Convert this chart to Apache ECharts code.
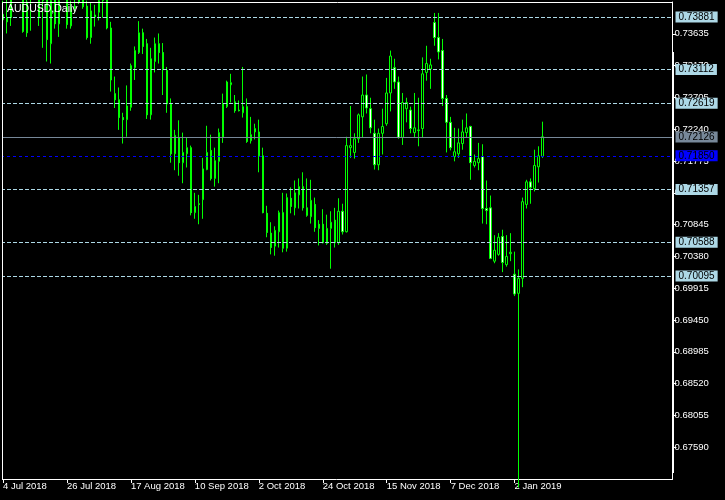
<!DOCTYPE html>
<html><head><meta charset="utf-8">
<script src="https://cdn.jsdelivr.net/npm/echarts@6/dist/echarts.min.js"></script>
<style>html,body{margin:0;padding:0;background:#000;}#c{width:725px;height:500px;}</style>
</head><body><div id="c"></div>
<script>
const symbolTitle = 'AUDUSD,Daily';
const tickLabels = ['4 Jul 2018','26 Jul 2018','17 Aug 2018','10 Sep 2018','2 Oct 2018','24 Oct 2018','15 Nov 2018','7 Dec 2018','2 Jan 2019'];
const barsPerLabel = 16;
const totalSlots = 168;
const opens = [0.7384,0.7387,0.7418,0.7420,0.7445,0.7468,0.7410,0.7418,0.7425,0.7430,0.7412,0.7418,0.7349,0.7415,0.7378,0.7415,0.7440,0.7375,0.7400,0.7410,0.7420,0.7404,0.7358,0.7391,0.7395,0.7412,0.7430,0.7372,0.7276,0.7267,0.7241,0.7238,0.7256,0.7314,0.7336,0.7365,0.7349,0.7245,0.7323,0.7349,0.7336,0.7310,0.7261,0.7188,0.7212,0.7175,0.7188,0.7197,0.7102,0.7115,0.7121,0.7165,0.7193,0.7152,0.7177,0.7212,0.7257,0.7289,0.7264,0.7252,0.7248,0.7257,0.7207,0.7220,0.7220,0.7185,0.7101,0.7072,0.7053,0.7074,0.7102,0.7050,0.7123,0.7109,0.7128,0.7140,0.7109,0.7096,0.7114,0.7085,0.7085,0.7057,0.7079,0.7091,0.7058,0.7104,0.7074,0.7197,0.7190,0.7210,0.7242,0.7274,0.7254,0.7218,0.7172,0.7218,0.7232,0.7277,0.7314,0.7293,0.7212,0.7254,0.7252,0.7219,0.7222,0.7225,0.7307,0.7312,0.7380,0.7358,0.7339,0.7269,0.7234,0.7184,0.7188,0.7203,0.7219,0.7228,0.7171,0.7175,0.7184,0.7108,0.7109,0.7031,0.7041,0.7067,0.7026,0.7042,0.7012,0.6984,0.7006,0.7114,0.7147,0.7137,0.7169,0.7184];
const closes = [0.7392,0.7381,0.7387,0.7445,0.7470,0.7367,0.7365,0.7425,0.7432,0.7387,0.7418,0.7355,0.7412,0.7378,0.7412,0.7440,0.7377,0.7402,0.7404,0.7420,0.7403,0.7358,0.7397,0.7388,0.7412,0.7425,0.7372,0.7296,0.7267,0.7241,0.7238,0.7258,0.7317,0.7339,0.7365,0.7345,0.7245,0.7327,0.7349,0.7336,0.7311,0.7261,0.7188,0.7215,0.7175,0.7190,0.7197,0.7102,0.7111,0.7114,0.7166,0.7190,0.7152,0.7178,0.7219,0.7261,0.7293,0.7292,0.7251,0.7251,0.7257,0.7206,0.7216,0.7225,0.7185,0.7102,0.7073,0.7051,0.7076,0.7102,0.7050,0.7124,0.7111,0.7131,0.7140,0.7109,0.7098,0.7120,0.7080,0.7079,0.7058,0.7079,0.7088,0.7058,0.7104,0.7074,0.7200,0.7200,0.7210,0.7245,0.7274,0.7255,0.7226,0.7172,0.7218,0.7228,0.7277,0.7331,0.7293,0.7212,0.7263,0.7263,0.7225,0.7226,0.7223,0.7305,0.7320,0.7318,0.7358,0.7337,0.7269,0.7234,0.7197,0.7191,0.7204,0.7220,0.7226,0.7175,0.7177,0.7181,0.7108,0.7105,0.7035,0.7047,0.7066,0.7029,0.7038,0.7044,0.6983,0.7006,0.7118,0.7147,0.7139,0.7171,0.7185,0.7213];
const lows = [0.7381,0.7364,0.7375,0.7412,0.7430,0.7365,0.7359,0.7368,0.7412,0.7375,0.7343,0.7323,0.7320,0.7371,0.7359,0.7411,0.7371,0.7371,0.7395,0.7407,0.7400,0.7355,0.7349,0.7374,0.7383,0.7387,0.7370,0.7279,0.7255,0.7223,0.7203,0.7213,0.7251,0.7296,0.7334,0.7334,0.7239,0.7238,0.7307,0.7320,0.7274,0.7248,0.7175,0.7164,0.7156,0.7145,0.7168,0.7098,0.7093,0.7085,0.7093,0.7164,0.7149,0.7140,0.7145,0.7204,0.7255,0.7263,0.7248,0.7250,0.7241,0.7204,0.7203,0.7209,0.7161,0.7101,0.7066,0.7041,0.7039,0.7051,0.7044,0.7045,0.7101,0.7098,0.7108,0.7105,0.7096,0.7086,0.7074,0.7054,0.7057,0.7055,0.7020,0.7051,0.7055,0.7070,0.7073,0.7182,0.7181,0.7204,0.7212,0.7247,0.7218,0.7165,0.7164,0.7187,0.7229,0.7250,0.7283,0.7210,0.7201,0.7234,0.7218,0.7212,0.7199,0.7212,0.7295,0.7283,0.7346,0.7326,0.7258,0.7190,0.7193,0.7177,0.7182,0.7194,0.7212,0.7150,0.7168,0.7164,0.7086,0.7085,0.7034,0.7028,0.7039,0.7015,0.7023,0.7031,0.6980,0.6700,0.6993,0.7108,0.7115,0.7133,0.7146,0.7182];
const highs = [0.7412,0.7415,0.7430,0.7462,0.7483,0.7475,0.7425,0.7440,0.7445,0.7438,0.7430,0.7425,0.7425,0.7428,0.7420,0.7452,0.7448,0.7412,0.7415,0.7432,0.7428,0.7412,0.7410,0.7406,0.7425,0.7440,0.7440,0.7381,0.7301,0.7285,0.7248,0.7288,0.7320,0.7345,0.7382,0.7371,0.7356,0.7343,0.7358,0.7364,0.7350,0.7315,0.7269,0.7223,0.7237,0.7219,0.7212,0.7200,0.7131,0.7128,0.7182,0.7229,0.7216,0.7197,0.7225,0.7276,0.7295,0.7305,0.7274,0.7266,0.7315,0.7269,0.7242,0.7232,0.7238,0.7197,0.7112,0.7088,0.7082,0.7105,0.7131,0.7130,0.7139,0.7149,0.7152,0.7161,0.7152,0.7150,0.7124,0.7091,0.7107,0.7099,0.7104,0.7109,0.7123,0.7115,0.7213,0.7258,0.7218,0.7247,0.7301,0.7304,0.7270,0.7238,0.7225,0.7254,0.7299,0.7339,0.7327,0.7301,0.7277,0.7270,0.7257,0.7277,0.7270,0.7329,0.7346,0.7327,0.7394,0.7394,0.7356,0.7274,0.7242,0.7226,0.7225,0.7238,0.7247,0.7229,0.7187,0.7204,0.7202,0.7149,0.7127,0.7069,0.7072,0.7077,0.7069,0.7072,0.7045,0.7019,0.7124,0.7150,0.7152,0.7194,0.7199,0.7235];
const levelLines = [0.73881, 0.73112, 0.72619, 0.71357, 0.70588, 0.70095];
const blueLine = 0.71850;
const bidPrice = 0.72126;
const priceMin = 0.67125, priceMax = 0.74100, priceStep = 0.00465;

const FONT = 'Liberation Sans';
const slots = [];
for (let i = 0; i < totalSlots; i++) slots.push(String(i));
const isLabelSlot = (idx) => idx % barsPerLabel === 0 && idx / barsPerLabel < tickLabels.length;
const candles = opens.map((o, i) => [o, closes[i], lows[i], highs[i]]);

function boxLabel(bg, txt) {
  return { show: true, position: 'end', distance: 3, formatter: () => txt,
    backgroundColor: bg, color: '#000', padding: [1, 3, 0, 3],
    fontFamily: FONT, fontSize: 10 };
}
const mlData = levelLines.map(v => ({ yAxis: v,
  lineStyle: { color: '#ADD8E6', type: [4, 2], width: 1 },
  label: boxLabel('#ADD8E6', v.toFixed(5)) }));
mlData.push({ yAxis: bidPrice, lineStyle: { color: '#778899', type: 'solid', width: 1 },
  label: boxLabel('#778899', bidPrice.toFixed(5)) });
mlData.push({ yAxis: blueLine, lineStyle: { color: '#0000FF', type: [3, 3], width: 1 },
  label: boxLabel('#0000FF', blueLine.toFixed(5)) });

const chart = echarts.init(document.getElementById('c'), null, { renderer: 'canvas' });
chart.setOption({
  animation: false,
  backgroundColor: '#000',
  title: { text: symbolTitle, left: 7, top: 4, padding: 0,
    textStyle: { color: '#fff', fontSize: 10.5, fontWeight: 'normal', fontFamily: FONT } },
  grid: { left: 0.5, right: 52.5, top: 2, bottom: 21, show: false },
  xAxis: {
    type: 'category', data: slots, boundaryGap: true,
    axisLine: { show: true, lineStyle: { color: '#fff', width: 1 } },
    axisTick: { show: true, alignWithLabel: true, length: 4, interval: (idx) => isLabelSlot(idx),
      lineStyle: { color: '#fff' } },
    axisLabel: { show: true, interval: (idx) => isLabelSlot(idx), align: 'left', margin: 2,
      color: '#fff', fontFamily: FONT, fontSize: 9.5,
      formatter: (v, idx) => isLabelSlot(idx) ? tickLabels[idx / barsPerLabel] : '' },
    splitLine: { show: false }
  },
  yAxis: {
    type: 'value', position: 'right', min: priceMin, max: priceMax, interval: priceStep,
    scale: false,
    axisLine: { show: true, lineStyle: { color: '#fff', width: 1 } },
    axisTick: { show: true, length: 4, lineStyle: { color: '#fff' } },
    axisLabel: { color: '#fff', margin: 2, fontFamily: FONT, fontSize: 9.5,
      showMinLabel: false, showMaxLabel: false, formatter: (v) => v.toFixed(5) },
    splitLine: { show: false }
  },
  graphic: [
    { type: 'rect', shape: { x: 0, y: 0, width: 2, height: 480 }, style: { fill: '#000' }, z: 100 },
    { type: 'polyline', shape: { points: [[2.5, 479.5], [2.5, 2.5], [672.5, 2.5], [672.5, 479.5]] },
      style: { stroke: '#fff', fill: null, lineWidth: 1 }, z: 101 },
    { type: 'rect', shape: { x: 672, y: 52, width: 2, height: 421 }, style: { fill: '#fff' }, z: 101 }
  ],
  series: [{
    type: 'candlestick', data: candles, barWidth: 2, clip: true,
    itemStyle: { color: '#000', color0: '#fff', borderColor: '#00ff00', borderColor0: '#00ff00',
      borderColorDoji: '#00ff00', borderWidth: 1 }
  }, {
    type: 'line', data: [], silent: true, symbol: 'none',
    markLine: { silent: true, symbol: ['none', 'none'], animation: false, precision: 5, data: mlData }
  }]
});
</script></body></html>
